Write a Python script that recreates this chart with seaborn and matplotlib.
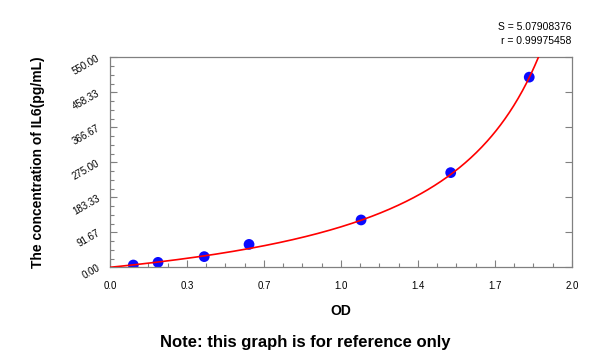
import numpy as np
import pandas as pd
import matplotlib
matplotlib.use('Agg')
import matplotlib.pyplot as plt
from matplotlib.ticker import FixedLocator, AutoMinorLocator
import seaborn as sns

# standard points
od = [0.101, 0.208, 0.408, 0.602, 1.087, 1.475, 1.815]
conc = [6, 13, 28, 60, 124, 248, 498]

# fitted curve: conc = scale * od / (asym - od)
curve_scale = 141.0
curve_asym = 2.33

x_ticks = [0, 1/3, 2/3, 1, 4/3, 5/3, 2]
x_labels = ['0.0', '0.3', '0.7', '1.0', '1.4', '1.7', '2.0']
y_ticks = [0, 91.67, 183.33, 275.0, 366.67, 458.33, 550.0]
y_labels = ['0.00', '91.67', '183.33', '275.00', '366.67', '458.33', '550.00']

sns.set_style('white')
plt.rcParams['font.family'] = ['Liberation Sans', 'DejaVu Sans']
plt.rcParams['text.color'] = 'black'
plt.rcParams['axes.labelcolor'] = 'black'

fig = plt.figure(figsize=(6, 3.59), dpi=100)
ax = fig.add_axes([0.1833, 0.2554, 0.77, 0.585])

pts = pd.DataFrame({'OD': od, 'Conc': conc})
sns.scatterplot(data=pts, x='OD', y='Conc', ax=ax, color='#0a0aff', s=60,
                edgecolor='none', zorder=2)

xs = np.linspace(0, 1.9, 400)
ys = curve_scale * xs / (curve_asym - xs)
line = pd.DataFrame({'OD': xs, 'Conc': ys})
sns.lineplot(data=line, x='OD', y='Conc', ax=ax, color='red', lw=1.2, zorder=3)

ax.set_xlim(0, 2)
ax.set_ylim(0, 550)
ax.xaxis.set_major_locator(FixedLocator(x_ticks))
ax.set_xticklabels(x_labels)
ax.yaxis.set_major_locator(FixedLocator(y_ticks))
ax.set_yticklabels(y_labels, rotation=30, ha='right', va='center',
                   rotation_mode='anchor')
ax.xaxis.set_minor_locator(AutoMinorLocator(4))
ax.yaxis.set_minor_locator(AutoMinorLocator(4))
ax.tick_params(which='both', direction='in', color='#808080', labelsize=7,
               labelcolor='black', bottom=True, left=True)
ax.tick_params(which='major', length=5, width=0.8)
ax.tick_params(which='minor', length=3, width=0.8)
ax.tick_params(axis='y', which='major', right=True, pad=8)
ax.tick_params(axis='x', which='major', pad=10)
for s in ax.spines.values():
    s.set_color('#808080')
    s.set_linewidth(0.9)

ax.set_xlabel('OD', fontsize=10, fontweight='bold', labelpad=9)
ax.set_ylabel('The concentration of IL6(pg/mL)', fontsize=10,
              fontweight='bold', labelpad=18)

fig.text(0.953, 0.925, 'S = 5.07908376', ha='right', va='center', fontsize=7.5)
fig.text(0.953, 0.885, 'r = 0.99975458', ha='right', va='center', fontsize=7.5)
fig.text(0.508, 0.047, 'Note: this graph is for reference only', ha='center',
         va='center', fontsize=12, fontweight='bold')

fig.savefig('out.png', dpi=100)
